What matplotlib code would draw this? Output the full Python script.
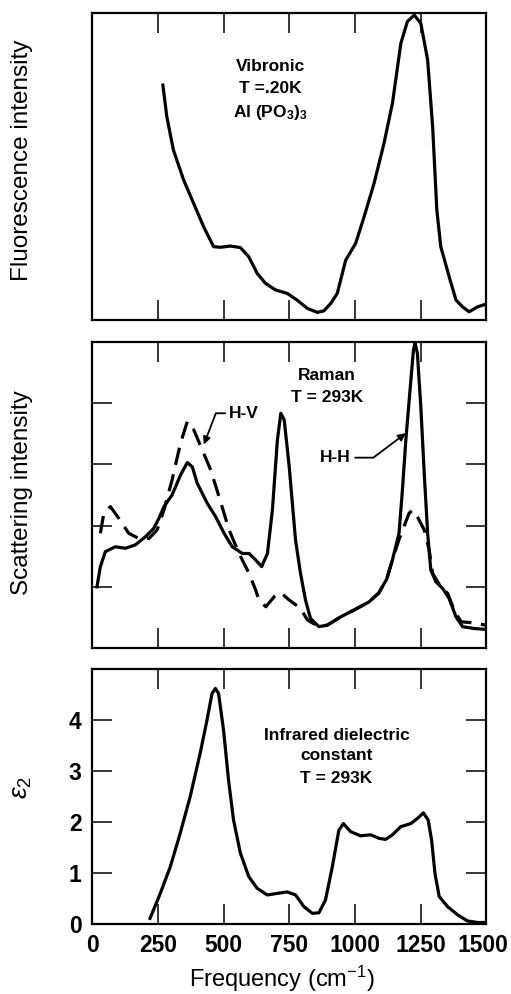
import matplotlib
matplotlib.use("Agg")
import matplotlib.pyplot as plt
from matplotlib.transforms import ScaledTranslation

plt.rcParams['font.family'] = ['Liberation Sans', 'DejaVu Sans']
plt.rcParams['mathtext.fontset'] = 'custom'
plt.rcParams['mathtext.rm'] = 'Liberation Sans'
plt.rcParams['mathtext.it'] = 'Liberation Sans:italic'
plt.rcParams['mathtext.bf'] = 'Liberation Sans:bold'

# ---- Data ----
fluor_freq = [268, 283, 308, 347, 385, 423, 461, 487, 525, 563, 595, 627, 658, 697,
              741, 779, 818, 856, 881, 907, 932, 964, 1002, 1034, 1072, 1110, 1142,
              1174, 1199, 1225, 1250, 1276, 1295, 1311, 1326, 1358, 1384, 1409, 1434,
              1466, 1498]
fluor_int = [76.5, 66.2, 55.4, 45.6, 38.0, 30.4, 23.9, 23.7, 24.1, 23.6, 20.6, 15.2,
             12.0, 9.8, 8.7, 6.5, 3.8, 2.5, 3.0, 5.4, 8.7, 19.5, 25.0, 33.6, 44.5,
             57.6, 70.6, 90.1, 97.2, 99.3, 96.6, 84.7, 63.0, 35.8, 23.9, 14.1, 6.5,
             4.3, 2.7, 4.3, 5.2]

hh_freq = [17, 30, 49, 87, 125, 163, 202, 233, 253, 272, 303, 335, 361, 380, 399, 437,
           469, 501, 532, 571, 596, 621, 644, 666, 685, 704, 717, 730, 749, 773, 792,
           811, 830, 862, 894, 945, 995, 1053, 1090, 1120, 1142, 1167, 1180, 1193,
           1209, 1222, 1228, 1237, 1250, 1263, 1276, 1288, 1307, 1333, 1358, 1384,
           1409, 1453, 1498]
hh_int = [20.0, 26.6, 31.5, 33.1, 32.6, 33.7, 36.4, 39.1, 42.4, 46.2, 50.0, 56.5, 60.6,
          59.2, 53.8, 47.3, 42.9, 37.5, 33.1, 30.9, 30.9, 28.8, 26.6, 30.9, 45.1, 68.0,
          76.7, 74.5, 59.2, 35.3, 24.4, 15.7, 9.7, 7.0, 7.5, 10.2, 12.4, 15.1, 18.0,
          22.5, 28.8, 37.5, 51.6, 68.0, 84.3, 97.4, 99.6, 96.3, 78.9, 57.1, 37.5, 25.5,
          21.7, 19.5, 16.2, 10.2, 7.0, 6.4, 6.1]

hv_freq = [30, 43, 68, 100, 138, 176, 215, 246, 272, 303, 335, 361, 386, 418, 450, 482,
           520, 558, 596, 621, 634, 660, 692, 717, 749, 792, 818, 862, 894, 945, 995,
           1053, 1090, 1120, 1142, 1167, 1186, 1205, 1218, 1237, 1263, 1282, 1295,
           1326, 1352, 1377, 1403, 1441, 1498]
hv_int = [37.5, 44.0, 46.2, 42.4, 37.5, 35.8, 35.8, 38.6, 45.1, 54.9, 66.9, 74.0, 71.2,
          64.7, 58.2, 49.4, 38.6, 30.9, 24.4, 19.0, 15.7, 13.5, 16.8, 18.1, 15.7, 13.0,
          9.2, 7.0, 7.5, 10.2, 12.4, 15.1, 18.0, 22.5, 28.8, 35.5, 39.7, 44.0, 45.1,
          42.9, 38.6, 32.0, 24.4, 20.0, 17.9, 12.4, 8.6, 8.3, 7.5]

ir_freq = [219, 258, 296, 334, 372, 410, 436, 455, 468, 480, 499, 518, 537, 563, 595,
           627, 665, 703, 741, 773, 805, 837, 862, 887, 913, 938, 955, 983, 1021, 1059,
           1091, 1116, 1142, 1174, 1212, 1237, 1260, 1278, 1291, 1304, 1320, 1352,
           1390, 1428, 1466, 1492]
ir_eps2 = [0.11, 0.60, 1.12, 1.78, 2.50, 3.35, 4.0, 4.52, 4.62, 4.52, 3.80, 2.82, 2.04,
           1.39, 0.93, 0.70, 0.57, 0.60, 0.63, 0.57, 0.34, 0.21, 0.22, 0.47, 1.12, 1.84,
           1.97, 1.81, 1.73, 1.75, 1.68, 1.66, 1.75, 1.91, 1.97, 2.07, 2.18, 2.04, 1.65,
           0.99, 0.54, 0.34, 0.18, 0.06, 0.03, 0.03]

x_ticks = [0, 250, 500, 750, 1000, 1250, 1500]
x_ticklabels = ['0', '250', '500', '750', '1000', '1250', '1500']
scat_yticks = [20, 40, 60, 80]
eps_yticks = [0, 1, 2, 3, 4]

# ---- Figure ----
fig = plt.figure(figsize=(5.11, 9.94), dpi=100)
L, W = 0.181, 0.771
ax1 = fig.add_axes([L, 0.678, W, 0.309])
ax2 = fig.add_axes([L, 0.348, W, 0.308])
ax3 = fig.add_axes([L, 0.0704, W, 0.2565])

lw = 2.3
for ax in (ax1, ax2, ax3):
    ax.set_xlim(0, 1500)
    for s in ax.spines.values():
        s.set_linewidth(1.6)
    ax.set_xticks(x_ticks)
    ax.tick_params(axis='both', direction='in', length=14.5, width=1.1,
                   top=True, bottom=True, left=True, right=True,
                   labelsize=16.5)

ann_fs = 12.5
lab_fs = 17.5

# Panel 1
ax1.plot(fluor_freq, fluor_int, color='black', lw=lw, solid_joinstyle='round')
ax1.set_ylim(0, 100)
ax1.set_yticks([])
ax1.tick_params(labelbottom=False, labelleft=False)
ax1.text(677, 82.4, 'Vibronic', ha='center', va='center', fontsize=ann_fs, fontweight='bold')
ax1.text(677, 75.4, 'T =.20K', ha='center', va='center', fontsize=ann_fs, fontweight='bold')
ax1.text(677, 67.6, r'Al (PO$_\mathbf{3}$)$_\mathbf{3}$', ha='center', va='center',
         fontsize=ann_fs, fontweight='bold')

# Panel 2
ax2.plot(hh_freq, hh_int, color='black', lw=lw, solid_joinstyle='round')
l, = ax2.plot(hv_freq, hv_int, color='black', lw=lw)
l.set_dashes((5.5, 3))
ax2.set_ylim(0, 100)
ax2.set_yticks(scat_yticks)
ax2.tick_params(labelbottom=False, labelleft=False)
ax2.text(894, 89.2, 'Raman', ha='center', va='center', fontsize=ann_fs, fontweight='bold')
ax2.text(894, 82.0, 'T = 293K', ha='center', va='center', fontsize=ann_fs, fontweight='bold')
ax2.text(518, 76.7, 'H-V', ha='left', va='center', fontsize=ann_fs, fontweight='bold')
ax2.annotate('', xy=(424, 66.5), xytext=(505, 76.7),
             arrowprops=dict(arrowstyle='-|>', color='black', lw=1.3,
                             shrinkA=0, shrinkB=0,
                             connectionstyle='angle,angleA=180,angleB=69,rad=0',
                             mutation_scale=11))
ax2.text(983, 62.2, 'H-H', ha='right', va='center', fontsize=ann_fs, fontweight='bold')
ax2.annotate('', xy=(1193, 70.2), xytext=(1000, 62.2),
             arrowprops=dict(arrowstyle='-|>', color='black', lw=1.3,
                             shrinkA=0, shrinkB=0,
                             connectionstyle='angle,angleA=0,angleB=217,rad=0',
                             mutation_scale=11))

# Panel 3
ax3.plot(ir_freq, ir_eps2, color='black', lw=lw, solid_joinstyle='round')
ax3.set_ylim(0, 5)
ax3.set_yticks(eps_yticks)
ax3.set_xticklabels(x_ticklabels, fontweight='bold')
for t in ax3.get_yticklabels():
    t.set_fontweight('bold')
ax3.tick_params(axis='x', pad=7)
ax3.tick_params(axis='y', pad=8)
last = ax3.get_xticklabels()[-1]
last.set_transform(last.get_transform() + ScaledTranslation(-4 / 100, 0, fig.dpi_scale_trans))
ax3.text(929, 3.7, 'Infrared dielectric', ha='center', va='center', fontsize=ann_fs,
         fontweight='bold')
ax3.text(929, 3.3, 'constant', ha='center', va='center', fontsize=ann_fs, fontweight='bold')
ax3.text(929, 2.86, 'T = 293K', ha='center', va='center', fontsize=ann_fs, fontweight='bold')

# Axis labels
fig.text(22 / 511, 1 - 160 / 994, 'Fluorescence intensity', rotation=90,
         ha='center', va='center', fontsize=lab_fs)
fig.text(22 / 511, 1 - 493 / 994, 'Scattering intensity', rotation=90,
         ha='center', va='center', fontsize=lab_fs)
fig.text(22 / 511, 1 - 788 / 994, r'$\epsilon_2$', rotation=90,
         ha='center', va='center', fontsize=19)
fig.text(282 / 511, 1 - 979 / 994, r'Frequency (cm$^{-1}$)',
         ha='center', va='center', fontsize=17)

fig.savefig('out.png', dpi=100)
